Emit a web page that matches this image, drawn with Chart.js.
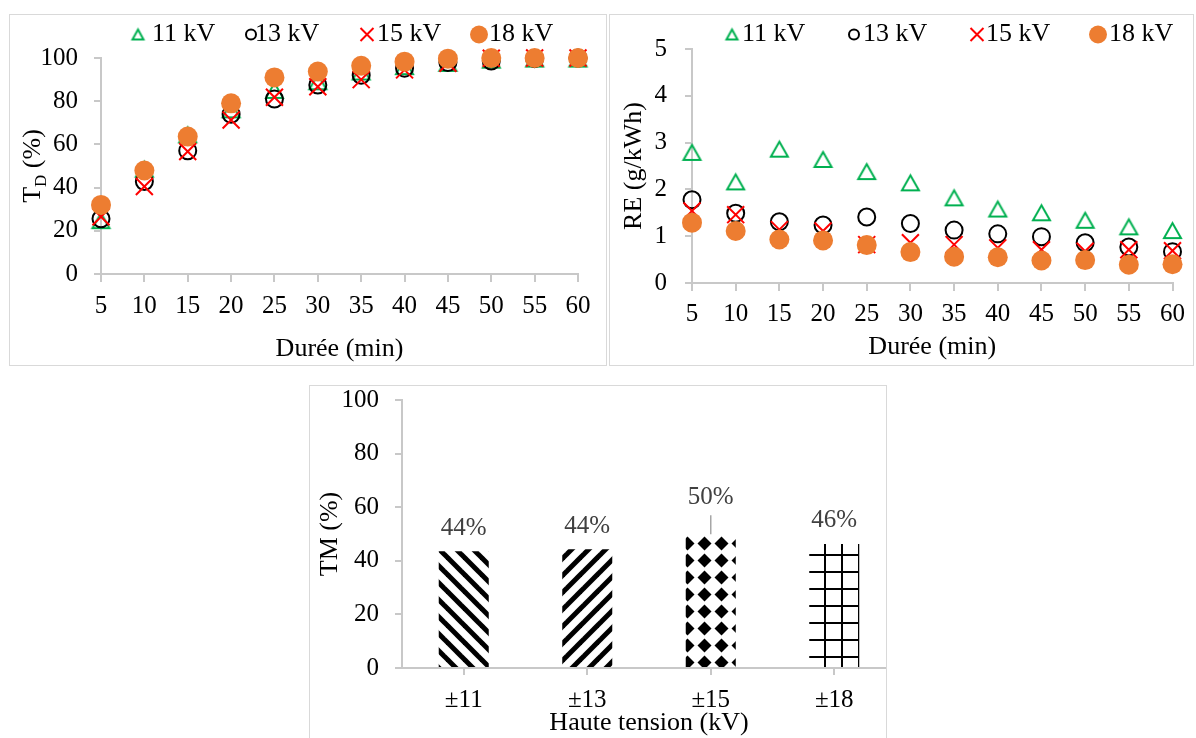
<!DOCTYPE html>
<html lang="fr">
<head>
<meta charset="utf-8">
<title>TD, RE et TM</title>
<script src="https://cdn.jsdelivr.net/npm/chart.js@4/dist/chart.umd.min.js"></script>
<style>
  body { margin: 0; width: 1196px; height: 738px; background: #fff; position: relative; overflow: hidden; }
  .panel { position: absolute; border: 1px solid #d9d9d9; overflow: hidden; background: #fff; }
  .panel canvas { position: absolute; left: 0; top: 0; }
</style>
</head>
<body>
<div class="panel" style="left:9px;top:14px;width:596px;height:350px"><canvas id="td_chart" width="596" height="350"></canvas></div>
<div class="panel" style="left:609px;top:14px;width:583px;height:350px"><canvas id="re_chart" width="583" height="350"></canvas></div>
<div class="panel" style="left:309px;top:385px;width:576px;height:360px"><canvas id="tm_chart" width="610" height="360"></canvas></div>
<script>
const durations = [5, 10, 15, 20, 25, 30, 35, 40, 45, 50, 55, 60];
const seriesLabels = ['11 kV', '13 kV', '15 kV', '18 kV'];

// T_D (%) vs durée
const td11 = [24.7, 48.5, 64.4, 76, 85, 89, 93.5, 96, 97.5, 99, 99.5, 99.5];
const td13 = [25.6, 42.8, 57.1, 74, 81, 87.5, 92, 95.3, 97.9, 98.6, 99.7, 100];
const td15 = [26.5, 40.5, 56.7, 71.3, 81.8, 86.7, 90, 94.5, 97.6, 99.9, 100, 100];
const td18 = [32, 47.9, 63.6, 79, 91, 93.7, 96.4, 98.3, 99.7, 100, 100, 100];

// RE (g/kWh) vs durée
const re11 = [2.79, 2.16, 2.86, 2.64, 2.38, 2.14, 1.82, 1.58, 1.50, 1.34, 1.20, 1.12];
const re13 = [1.78, 1.49, 1.31, 1.24, 1.41, 1.27, 1.13, 1.05, 0.99, 0.86, 0.77, 0.67];
const re15 = [1.54, 1.46, 1.14, 1.11, 0.82, 0.86, 0.82, 0.75, 0.71, 0.68, 0.71, 0.69];
const re18 = [1.29, 1.11, 0.93, 0.91, 0.81, 0.66, 0.56, 0.55, 0.48, 0.49, 0.39, 0.40];

// TM (%) vs haute tension
const voltages = ['±11', '±13', '±15', '±18'];
const tmValues = [43.6, 44.3, 49.9, 46.3];

const GREEN = '#00b050', RED = '#ff0000', ORANGE = '#ed7d31', AXIS = '#c8c8c8';
const SERIF = '"Liberation Serif", "Times New Roman", serif';

Chart.defaults.font.family = SERIF;
Chart.defaults.color = '#000';
Chart.defaults.animation = false;
Chart.defaults.events = [];

// open triangle centred on its bounding box (Excel style)
function triangleImage(w, h, color) {
    const pad = 3;
    const c = document.createElement('canvas');
    c.width = w + pad * 2;
    c.height = h + pad * 2;
    const g = c.getContext('2d');
    g.strokeStyle = color;
    g.lineWidth = 2;
    g.beginPath();
    g.moveTo(c.width / 2, pad);
    g.lineTo(pad + w, pad + h);
    g.lineTo(pad, pad + h);
    g.closePath();
    g.stroke();
    return c;
}
const triBig = triangleImage(17, 15, GREEN);
const triSmall = triangleImage(11, 10, GREEN);

const legendMarks = [
    { kind: 'img', img: triSmall },
    { kind: 'ring', r: 5, color: '#000' },
    { kind: 'cross', r: 6.5, color: RED },
    { kind: 'dot', r: 9, color: ORANGE }
];

function drawMarker(ctx, m, x, y) {
    ctx.save();
    ctx.lineWidth = 2;
    if (m.kind === 'img') {
        ctx.drawImage(m.img, x - m.img.width / 2, y - m.img.height / 2);
    } else if (m.kind === 'ring') {
        ctx.strokeStyle = m.color;
        ctx.beginPath(); ctx.arc(x, y, m.r, 0, Math.PI * 2); ctx.stroke();
    } else if (m.kind === 'dot') {
        ctx.fillStyle = m.color;
        ctx.beginPath(); ctx.arc(x, y, m.r, 0, Math.PI * 2); ctx.fill();
    } else {
        ctx.strokeStyle = m.color;
        ctx.beginPath();
        ctx.moveTo(x - m.r, y - m.r); ctx.lineTo(x + m.r, y + m.r);
        ctx.moveTo(x + m.r, y - m.r); ctx.lineTo(x - m.r, y + m.r);
        ctx.stroke();
    }
    ctx.restore();
}

// legend row at the top of the scatter panels
const markerLegend = {
    id: 'markerLegend',
    afterDraw(chart, args, opts) {
        const ctx = chart.ctx;
        ctx.save();
        ctx.font = '26px ' + SERIF;
        ctx.fillStyle = '#000';
        ctx.textAlign = 'left';
        ctx.textBaseline = 'middle';
        seriesLabels.forEach((label, i) => {
            drawMarker(ctx, legendMarks[i], opts.marks[i], opts.y);
            ctx.fillText(label, opts.texts[i], opts.y);
        });
        ctx.restore();
    }
};

// y title with subscript (T_D)
const subTitle = {
    id: 'subTitle',
    afterDraw(chart, args, opts) {
        const ctx = chart.ctx, a = chart.chartArea;
        const big = '26px ' + SERIF, small = '17px ' + SERIF;
        ctx.save();
        ctx.translate(opts.x, (a.top + a.bottom) / 2);
        ctx.rotate(-Math.PI / 2);
        ctx.fillStyle = '#000';
        ctx.textAlign = 'left';
        ctx.textBaseline = 'alphabetic';
        ctx.font = big;
        const w1 = ctx.measureText(opts.main).width;
        const w3 = ctx.measureText(opts.rest).width;
        ctx.font = small;
        const w2 = ctx.measureText(opts.sub).width;
        const x0 = -(w1 + w2 + w3) / 2;
        ctx.font = big;
        ctx.fillText(opts.main, x0, 0);
        ctx.font = small;
        ctx.fillText(opts.sub, x0 + w1, 6);
        ctx.font = big;
        ctx.fillText(opts.rest, x0 + w1 + w2, 0);
        ctx.restore();
    }
};

// percentage labels above the bars
const barLabels = {
    id: 'barLabels',
    afterDatasetsDraw(chart, args, opts) {
        const ctx = chart.ctx;
        const meta = chart.getDatasetMeta(0);
        ctx.save();
        ctx.font = '25px ' + SERIF;
        ctx.fillStyle = '#404040';
        ctx.textAlign = 'center';
        ctx.textBaseline = 'middle';
        meta.data.forEach((bar, i) => {
            const lift = opts.lift[i] || 0;
            if (lift) {
                ctx.strokeStyle = '#a6a6a6';
                ctx.lineWidth = 1.5;
                ctx.beginPath();
                ctx.moveTo(bar.x, bar.y);
                ctx.lineTo(bar.x, bar.y - opts.leader);
                ctx.stroke();
            }
            ctx.fillText(Math.round(tmValues[i]) + '%', bar.x, bar.y - opts.gap - lift);
        });
        ctx.restore();
    }
};

function seriesSets(s11, s13, s15, s18) {
    const pts = ys => durations.map((x, i) => ({ x, y: ys[i] }));
    return [
        { label: seriesLabels[0], data: pts(s11), pointStyle: triBig, pointRadius: 10, order: 4, clip: false },
        { label: seriesLabels[1], data: pts(s13), pointStyle: 'circle', pointRadius: 8.5, pointBorderWidth: 2,
          pointBorderColor: '#000', pointBackgroundColor: 'rgba(0,0,0,0)', order: 3, clip: false },
        { label: seriesLabels[2], data: pts(s15), pointStyle: 'crossRot', pointRadius: 12, pointBorderWidth: 2,
          pointBorderColor: RED, pointBackgroundColor: RED, order: 2, clip: false },
        { label: seriesLabels[3], data: pts(s18), pointStyle: 'circle', pointRadius: 10, pointBorderWidth: 0,
          pointBackgroundColor: ORANGE, pointBorderColor: ORANGE, order: 1, clip: false }
    ];
}

function axisGrid(len) {
    return { drawOnChartArea: false, tickLength: len, color: AXIS, lineWidth: 2 };
}

// fixed axis sizes so the plot areas sit where the reference has them
function fixWidth(w) {
    return s => { s.width = w; s.paddingTop = 0; s.paddingBottom = 0; };
}
function fixHeight(h) {
    return s => { s.height = h; };
}

// panel 1: T_D
new Chart(document.getElementById('td_chart'), {
    type: 'scatter',
    data: { datasets: seriesSets(td11, td13, td15, td18) },
    options: {
        responsive: false,
        layout: { padding: { left: 0, top: 43, right: 28, bottom: 0 } },
        plugins: {
            legend: { display: false },
            tooltip: { enabled: false },
            markerLegend: { y: 19.5, marks: [128, 241, 357, 469], texts: [142, 245, 367, 479] },
            subTitle: { x: 30, main: 'T', sub: 'D', rest: ' (%)' }
        },
        scales: {
            x: {
                type: 'linear', min: 5, max: 60,
                ticks: { stepSize: 5, padding: 9, font: { size: 25 }, autoSkip: false, maxRotation: 0 },
                grid: axisGrid(8),
                border: { color: AXIS, width: 2 },
                title: { display: true, text: 'Durée (min)', font: { size: 26 }, padding: { top: 0, bottom: 0 } },
                afterFit: fixHeight(91)
            },
            y: {
                min: 0, max: 100,
                ticks: { stepSize: 20, padding: 16, font: { size: 25 } },
                grid: axisGrid(7),
                border: { color: AXIS, width: 2 },
                afterFit: fixWidth(91)
            }
        }
    },
    plugins: [markerLegend, subTitle]
});

// panel 2: RE
new Chart(document.getElementById('re_chart'), {
    type: 'scatter',
    data: { datasets: seriesSets(re11, re13, re15, re18) },
    options: {
        responsive: false,
        layout: { padding: { left: 0, top: 34, right: 15, bottom: 0 } },
        plugins: {
            legend: { display: false },
            tooltip: { enabled: false },
            markerLegend: { y: 19.5, marks: [122, 244, 367, 488], texts: [132, 253, 376, 499] }
        },
        scales: {
            x: {
                type: 'linear', min: 5, max: 60,
                ticks: { stepSize: 5, padding: 8, font: { size: 25 }, autoSkip: false, maxRotation: 0 },
                grid: axisGrid(8),
                border: { color: AXIS, width: 2 },
                title: { display: true, text: 'Durée (min)', font: { size: 26 }, padding: { top: 0, bottom: 2 } },
                afterFit: fixHeight(82)
            },
            y: {
                min: 0, max: 5,
                ticks: { stepSize: 1, padding: 18, font: { size: 25 } },
                grid: axisGrid(7),
                border: { color: AXIS, width: 2 },
                title: { display: true, text: 'RE (g/kWh)', font: { size: 26 }, padding: { top: 9, bottom: 0 } },
                afterFit: fixWidth(82)
            }
        }
    },
    plugins: [markerLegend]
});

// bar fill patterns
function tile(size, paint) {
    const c = document.createElement('canvas');
    c.width = size; c.height = size;
    const g = c.getContext('2d');
    g.fillStyle = '#fff';
    g.fillRect(0, 0, size, size);
    g.fillStyle = '#000';
    g.strokeStyle = '#000';
    paint(g, size);
    return g.createPattern(c, 'repeat');
}
const patBack = tile(17, (g, p) => {
    g.lineWidth = 5;
    for (let k = -1; k <= 1; k++) {
        g.beginPath(); g.moveTo(k * p - 2, -2); g.lineTo(k * p + p + 2, p + 2); g.stroke();
    }
});
const patFwd = tile(17, (g, p) => {
    g.lineWidth = 5;
    for (let k = -1; k <= 1; k++) {
        g.beginPath(); g.moveTo(k * p - 2, p + 2); g.lineTo(k * p + p + 2, -2); g.stroke();
    }
});
const patDiamond = tile(17, (g, p) => {
    const c = p / 2, r = 7;
    g.beginPath();
    g.moveTo(c, c - r); g.lineTo(c + r, c); g.lineTo(c, c + r); g.lineTo(c - r, c);
    g.closePath(); g.fill();
});
const patGrid = tile(17, (g, p) => {
    g.fillRect(4, 0, 2, p);
    g.fillRect(0, 15, p, 2);
});
try { patDiamond.setTransform(new DOMMatrix().translate(-5, -4)); } catch (e) { console.log(e); }

// panel 3: TM
new Chart(document.getElementById('tm_chart'), {
    type: 'bar',
    data: {
        labels: voltages,
        datasets: [{
            label: 'TM (%)',
            data: tmValues,
            backgroundColor: [patBack, patFwd, patDiamond, patGrid],
            borderWidth: 0,
            barPercentage: 0.405,
            categoryPercentage: 1
        }]
    },
    options: {
        responsive: false,
        layout: { padding: { left: 0, top: 14, right: 24, bottom: 0 } },
        plugins: {
            legend: { display: false },
            tooltip: { enabled: false },
            barLabels: { gap: 23, leader: 19, lift: { 2: 13.6 } }
        },
        scales: {
            x: {
                grid: { offset: false, drawOnChartArea: false, tickLength: 7, color: AXIS, lineWidth: 2 },
                border: { color: AXIS, width: 2 },
                ticks: { padding: 10, font: { size: 25 } },
                title: { display: true, text: 'Haute tension (kV)', font: { size: 26 }, padding: { top: 0, bottom: 7 } },
                afterFit: fixHeight(78)
            },
            y: {
                min: 0, max: 100,
                ticks: { stepSize: 20, padding: 16, font: { size: 25 } },
                grid: axisGrid(7),
                border: { color: AXIS, width: 2 },
                title: { display: true, text: 'TM (%)', font: { size: 26 }, padding: { top: 5, bottom: 0 } },
                afterFit: fixWidth(92)
            }
        }
    },
    plugins: [barLabels]
});
</script>
</body>
</html>
